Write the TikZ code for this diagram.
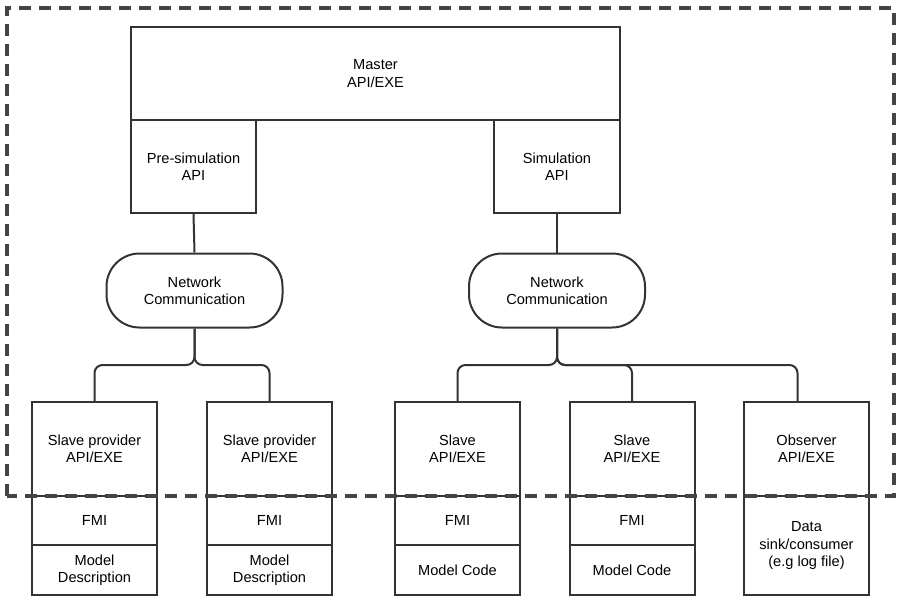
\documentclass[tikz,border=0pt]{standalone}
\usepackage{fontspec}
\setmainfont{Liberation Sans}
\usetikzlibrary{calc}
\definecolor{edge}{HTML}{333333}
\definecolor{dash}{HTML}{444444}
\begin{document}
\begin{tikzpicture}[x=1pt,y=-1pt,
  lbl/.style={font=\fontsize{14.6}{17.2}\selectfont, align=center, text=black},
  box/.style={lbl, draw=edge, line width=2pt, minimum width=125pt, inner sep=0pt},
  pill/.style={lbl, draw=edge, line width=2pt, rounded corners=33pt, minimum width=176pt, minimum height=74pt, inner sep=0pt},
  conn/.style={draw=edge, line width=2pt, rounded corners=8pt},
  border/.style={draw=dash, line width=3.4pt, dash pattern=on 12pt off 8pt}
]
\useasboundingbox (0,0) rectangle (903,602);

% upper part
\node[box, minimum width=489pt, minimum height=93pt] (master) at (375.5,73.5) {Master\\API/EXE};
\node[box, minimum height=93pt] (pre) at (193.5,166.5) {Pre-simulation\\API};
\node[box, minimum width=126pt, minimum height=93pt] (sim) at (557,166.5) {Simulation\\API};

\node[pill] (netL) at (194.5,290.5) {Network\\Communication};
\node[pill] (netR) at (557,290.5) {Network\\Communication};

% bottom boxes: top parts
\node[box, minimum height=94pt] (b1) at (94.5,449) {Slave provider\\API/EXE};
\node[box, minimum height=94pt] (b2) at (269.5,449) {Slave provider\\API/EXE};
\node[box, minimum height=94pt] (b3) at (457.5,449) {Slave\\API/EXE};
\node[box, minimum height=94pt] (b4) at (632,449) {Slave\\API/EXE};
\node[box, minimum height=94pt] (b5) at (806.5,449) {Observer\\API/EXE};

% FMI parts
\node[box, minimum height=49pt] (f1) at (94.5,520.5) {FMI};
\node[box, minimum height=49pt] (f2) at (269.5,520.5) {FMI};
\node[box, minimum height=49pt] (f3) at (457.5,520.5) {FMI};
\node[box, minimum height=49pt] (f4) at (632,520.5) {FMI};

% model parts
\node[box, minimum height=50pt] (m1) at (94.5,570) {Model\\Description};
\node[box, minimum height=50pt] (m2) at (269.5,570) {Model\\Description};
\node[box, minimum height=50pt] (m3) at (457.5,570) {Model Code};
\node[box, minimum height=50pt] (m4) at (632,570) {Model Code};
\node[box, minimum height=99pt] (d5) at (806.5,545.5) {Data\\sink/consumer\\(e.g log file)};

% connectors
\draw[conn] (pre.south) -- (netL.north);
\draw[conn] (sim.south) -- (netR.north);
\draw[conn] (netL.south) -- ++(0,36.5) -| (b1.north);
\draw[conn] (netL.south) -- ++(0,36.5) -| (b2.north);
\draw[conn] (netR.south) -- ++(0,36.5) -| (b3.north);
\draw[conn] (netR.south) -- ++(0,36.5) -| (b4.north);
\coordinate (b5in) at ($(b5.north)+(-9,0)$);
\draw[conn] (netR.south) -- ++(0,36.5) -| (b5in);

% dashed frame
\draw[border] (7,496) -- (7,8) -- (894,8) -- (894,496) -- cycle;
\end{tikzpicture}
\end{document}
